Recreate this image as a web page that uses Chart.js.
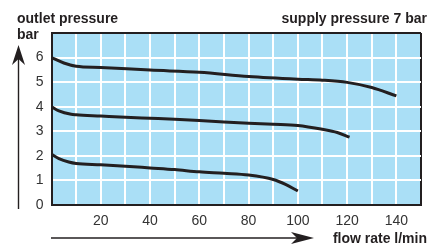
<!DOCTYPE html>
<html>
<head>
<meta charset="utf-8">
<script src="https://cdn.jsdelivr.net/npm/chart.js@4/dist/chart.umd.min.js"></script>
<style>
  body { margin: 0; background: #fff; }
  #wrap { position: relative; width: 429px; height: 244px; }
</style>
</head>
<body>
<div id="wrap"><canvas id="pressure"></canvas></div>
<script>
// ---------------- data ----------------
const xTicks = [20, 40, 60, 80, 100, 120, 140];
const yTicks = [0, 1, 2, 3, 4, 5, 6];

// supply 7 bar, set to 6 bar
const flowA = [0, 5, 10, 20, 40, 60, 80, 100, 110, 120, 130, 140];
const presA = [6.0, 5.78, 5.65, 5.6, 5.49, 5.4, 5.23, 5.12, 5.08, 4.99, 4.78, 4.44];
// set to 4 bar
const flowB = [0, 3, 8, 10, 20, 30, 40, 50, 60, 70, 80, 90, 100, 110, 116, 121];
const presB = [4.0, 3.83, 3.69, 3.67, 3.62, 3.57, 3.53, 3.49, 3.44, 3.38, 3.33, 3.29, 3.24, 3.08, 2.95, 2.76];
// set to 2 bar
const flowC = [0, 3, 7, 10, 20, 30, 40, 50, 60, 70, 80, 90, 95, 100];
const presC = [2.06, 1.89, 1.75, 1.69, 1.64, 1.58, 1.51, 1.44, 1.35, 1.29, 1.22, 1.04, 0.84, 0.57];

const FONT = '"Liberation Sans", Arial, Helvetica, sans-serif';
const INK = '#231f20';

function pts(xs, ys) {
  return xs.map((x, i) => ({ x: x, y: ys[i] }));
}

function curve(xs, ys) {
  return {
    data: pts(xs, ys),
    borderColor: INK,
    borderWidth: 3,
    pointRadius: 0,
    fill: false,
    cubicInterpolationMode: 'monotone'
  };
}

// plot background + the axis titles and arrows
const decor = {
  id: 'decor',
  beforeDraw(chart) {
    const { ctx, chartArea: a } = chart;
    ctx.save();
    ctx.fillStyle = '#aadff6';
    ctx.fillRect(a.left, a.top, a.right - a.left, a.bottom - a.top);
    ctx.restore();
  },
  afterDraw(chart) {
    const ctx = chart.ctx;
    ctx.save();
    ctx.fillStyle = INK;
    ctx.strokeStyle = INK;
    ctx.font = 'bold 14px ' + FONT;
    ctx.textBaseline = 'alphabetic';
    ctx.textAlign = 'left';
    ctx.fillText('outlet pressure', 17, 23);
    ctx.fillText('bar', 17, 39);
    ctx.textAlign = 'right';
    ctx.fillText('supply pressure 7 bar', 427, 23);
    ctx.fillText('flow rate l/min', 427, 243);

    // up arrow
    ctx.lineWidth = 1.4;
    ctx.beginPath();
    ctx.moveTo(18.5, 209);
    ctx.lineTo(18.5, 58);
    ctx.stroke();
    ctx.beginPath();
    ctx.moveTo(18.5, 45);
    ctx.lineTo(25, 65);
    ctx.lineTo(18.5, 59);
    ctx.lineTo(12, 65);
    ctx.closePath();
    ctx.fill();

    // right arrow
    ctx.beginPath();
    ctx.moveTo(51, 238);
    ctx.lineTo(300, 238);
    ctx.stroke();
    ctx.beginPath();
    ctx.moveTo(314, 238);
    ctx.lineTo(291, 232);
    ctx.lineTo(297, 238);
    ctx.lineTo(291, 244);
    ctx.closePath();
    ctx.fill();
    ctx.restore();
  }
};

new Chart(document.getElementById('pressure'), {
  type: 'line',
  data: {
    datasets: [curve(flowA, presA), curve(flowB, presB), curve(flowC, presC)]
  },
  options: {
    responsive: true,
    maintainAspectRatio: false,
    animation: false,
    events: [],
    layout: { padding: { left: 0, top: 33, right: 2, bottom: 0 } },
    plugins: { legend: { display: false }, tooltip: { enabled: false } },
    scales: {
      x: {
        type: 'linear',
        min: 0,
        max: 150,
        afterFit(scale) { scale.height = 39; },
        afterBuildTicks(scale) {
          scale.ticks = [];
          for (let v = 0; v <= 150; v += 10) scale.ticks.push({ value: v });
        },
        ticks: {
          autoSkip: false,
          maxRotation: 0,
          padding: 8,
          color: '#333',
          font: { family: FONT, size: 14 },
          callback: (v) => xTicks.includes(v) ? String(v) : ''
        },
        grid: {
          drawTicks: false,
          lineWidth: 2,
          color: (c) => (c.tick && c.tick.value === 150) ? INK : '#ffffff'
        },
        border: { display: true, color: INK, width: 2 }
      },
      y: {
        type: 'linear',
        min: 0,
        max: 7,
        afterFit(scale) { scale.width = 51.5; },
        afterBuildTicks(scale) {
          scale.ticks = [];
          for (let v = 0; v <= 7; v++) scale.ticks.push({ value: v });
        },
        ticks: {
          padding: 8,
          color: '#333',
          font: { family: FONT, size: 14 },
          callback: (v) => yTicks.includes(v) ? String(v) : ''
        },
        grid: {
          drawTicks: false,
          lineWidth: 2,
          color: (c) => (c.tick && c.tick.value === 7) ? INK : '#ffffff'
        },
        border: { display: true, color: INK, width: 2 }
      }
    }
  },
  plugins: [decor]
});
</script>
</body>
</html>
